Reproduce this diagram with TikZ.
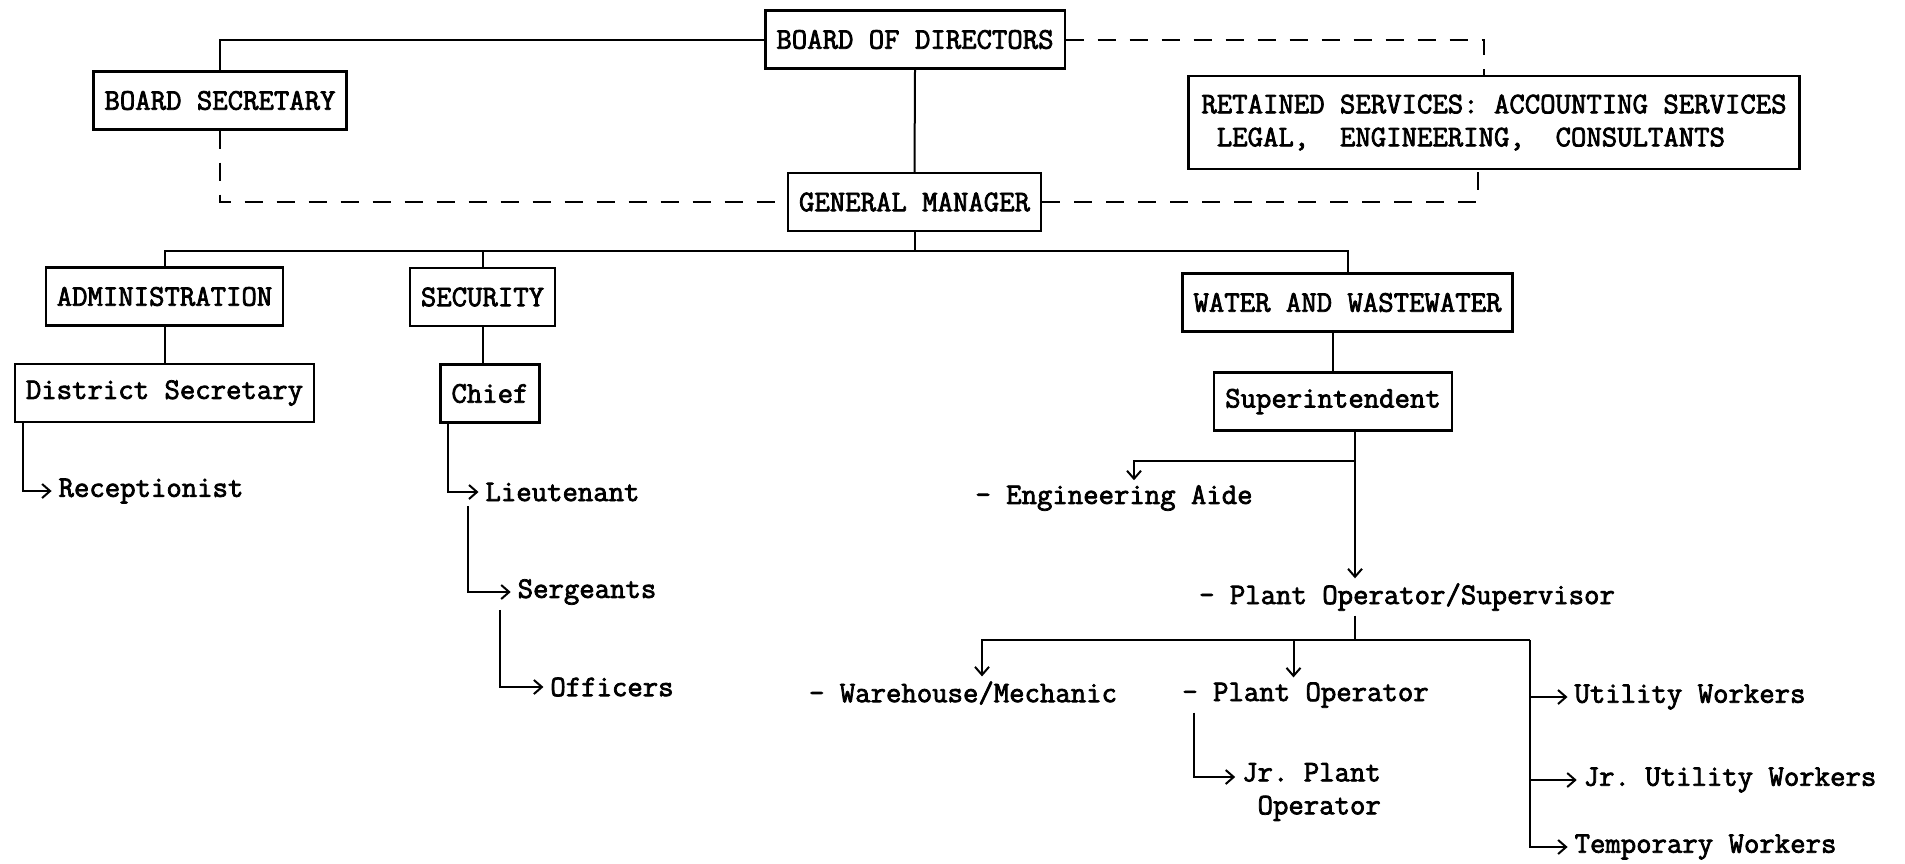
\documentclass[tikz,border=0pt]{standalone}
\usepackage{fontspec}
\newfontfamily\typer{Latin Modern Mono}[FakeBold=2.5]
\usetikzlibrary{arrows.meta}

\begin{document}
\begin{tikzpicture}[x=1pt,y=-1pt,line width=2pt,
    every node/.style={font=\typer\fontsize{29.9}{33}\selectfont},
    post/.style={draw,line width=2.2pt,inner xsep=11pt,minimum height=58pt},
    job/.style={inner xsep=6pt,inner ysep=4pt},
    link/.style={dash pattern=on 18pt off 14pt},
    arr/.style={-{Straight Barb[length=8pt,width=14pt]}}]
  \useasboundingbox (0,0) rectangle (1905,863);

  \node[post] (bod) at (915,39.5) {BOARD OF DIRECTORS};
  \node[post] (bsec) at (220,100.5) {BOARD SECRETARY};
  \node[post,align=left,minimum height=93pt,inner xsep=13pt] (rs) at (1494,122.5)
    {RETAINED SERVICES: ACCOUNTING SERVICES\\\hphantom{L}LEGAL,\ \ ENGINEERING,\ \ CONSULTANTS};
  \node[post] (gm) at (914.5,202) {GENERAL MANAGER};

  \node[post] (adm) at (164.5,296.5) {ADMINISTRATION};
  \node[post] (sec) at (482.5,297) {SECURITY};
  \node[post] (ww) at (1347.5,302.5) {WATER AND WASTEWATER};
  \node[post] (dsec) at (164.5,393) {District Secretary};
  \node[post] (chief) at (490,393.5) {Chief};
  \node[post] (supt) at (1333,401.5) {Superintendent};

  \node[job] (recep) at (151,491) {Receptionist};
  \node[job] (lieut) at (562.5,492) {Lieutenant};
  \node[job] (serg) at (587,592) {Sergeants};
  \node[job] (offc) at (612,687) {Officers};

  \node[job] (engaide) at (1114,498) {- Engineering Aide};
  \node[job] (pos) at (1407,597) {- Plant Operator/Supervisor};
  \node[job] (ware) at (963,693) {- Warehouse/Mechanic};
  \node[job] (plantop) at (1305.5,695) {- Plant Operator};
  \node[job,align=right] (jrplant) at (1311.5,792) {Jr.\ Plant\\Operator};
  \node[job] (util) at (1690,697) {Utility Workers};
  \node[job] (jrutil) at (1730,780) {Jr.\ Utility Workers};
  \node[job] (temp) at (1705.5,847) {Temporary Workers};

  \draw (bod.west) -| (bsec.north);
  \draw (bod.south) -- (gm.north);
  \draw[link] (bod.east) -| ([xshift=-10pt]rs.north);
  \draw[link] (bsec.south) |- (gm.west);
  \draw[link] (gm.east) -| ([xshift=-16pt]rs.south);

  \path (gm.south) ++(0,19) coordinate (bus);
  \draw (gm.south) -- (bus);
  \draw (adm.north) |- (bus) -| (ww.north);
  \draw (sec.north) -- (sec.north|-bus);
  \draw (adm.south) -- (dsec.north);
  \draw (sec.south) -- (sec.south|-chief.north);
  \draw (supt.north|-ww.south) -- (supt.north);

  \draw[arr] ([xshift=9pt]dsec.south west) |- (recep);
  \draw[arr] ([xshift=9pt]chief.south west) |- (lieut);
  \draw[arr] ([xshift=-11pt]lieut.south west) |- (serg);
  \draw[arr] ([xshift=-11pt]serg.south west) |- (offc);

  \coordinate (spine) at ([xshift=22pt]supt.south);
  \path (spine) ++(0,29) coordinate (eb);
  \draw[arr] (spine) -- (spine|-pos.north);
  \draw[arr] (eb) -| ([xshift=20pt]engaide.north);

  \coordinate (rv) at (1530,640);
  \coordinate (mp) at ([xshift=-12pt]plantop.north);
  \draw (spine|-pos.south) -- (spine|-rv);
  \draw[arr] (rv) -| ([xshift=19pt]ware.north);
  \draw[arr] (mp|-rv) -- (mp);
  \draw[arr] ([xshift=19pt]plantop.south west) |- ([yshift=15pt]jrplant.west);
  \draw[arr] (rv) |- (temp);
  \draw[arr] (rv|-util) -- (util);
  \draw[arr] (rv|-jrutil) -- (jrutil);
\end{tikzpicture}
\end{document}
